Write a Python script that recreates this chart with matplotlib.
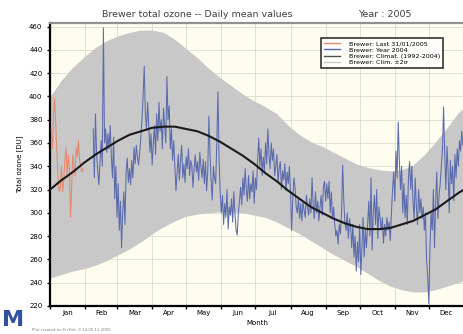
import numpy as np
import matplotlib.pyplot as plt
from matplotlib.lines import Line2D

# month boundaries (day of year) and labels
month_edges = [0, 31, 59, 90, 120, 151, 181, 212, 243, 273, 304, 334, 365]
month_names = ['Jan', 'Feb', 'Mar', 'Apr', 'May', 'Jun',
               'Jul', 'Aug', 'Sep', 'Oct', 'Nov', 'Dec']

# climatology (every 10 days) : mean and +/- band
clim_days = [0, 10, 20, 30, 40, 50, 60, 70, 80, 90, 100, 110, 120, 130, 140, 150,
             160, 170, 180, 190, 200, 210, 220, 230, 240, 250, 260, 270, 280, 290,
             300, 310, 320, 330, 340, 350, 360, 365]
clim_mean = [320, 328, 335, 343, 350, 356, 362, 367, 370, 373, 374, 374, 372, 370,
             366, 361, 355, 349, 342, 334, 327, 319, 312, 305, 300, 295, 291, 288,
             286, 286, 287, 290, 293, 298, 303, 310, 317, 320]
clim_high = [400, 414, 425, 434, 442, 448, 452, 455, 457, 457, 455, 449, 441, 433,
             424, 416, 409, 402, 396, 391, 385, 375, 367, 361, 357, 352, 347, 342,
             339, 337, 336, 337, 341, 350, 361, 373, 386, 391]
clim_low = [244, 247, 250, 252, 255, 259, 264, 269, 275, 282, 288, 293, 297, 299,
            300, 301, 301, 300, 298, 296, 292, 287, 282, 276, 270, 264, 259, 254,
            248, 242, 237, 234, 232, 232, 234, 237, 240, 242]

# current year (January 2005), starting Jan 1
cur_start = 1
cur_vals = [372, 355, 385, 398, 375, 352, 330, 318, 322, 340, 318, 328, 345, 356, 330,
            350, 338, 296, 322, 350, 340, 332, 356, 348, 362, 345, 340, 335, 338]

# previous year daily means, starting day 38
prev_start = 38
prev_vals = [
    372, 330, 385, 350, 336, 324, 345, 362, 340, 459,
    360, 372, 352, 368, 355, 375, 348, 330, 365, 312,
    340, 296, 325, 285, 310, 270, 300, 318, 290, 335,
    347, 326, 338, 324, 345, 330, 356, 342, 358, 348,
    341, 352, 365, 380, 400, 426, 385, 372, 395, 375,
    352, 368, 341, 360, 375, 350, 385, 362, 395, 370,
    380, 355, 390, 375, 360, 417, 380, 392, 355, 372,
    345, 362, 340, 319, 335, 350, 328, 345, 358, 330,
    342, 326, 348, 338, 355, 332, 345, 340, 322, 338,
    350, 335, 344, 328, 352, 340, 330, 346, 325, 344,
    319, 335, 383, 350, 328, 311, 340, 330, 325, 360,
    404, 345, 318, 300, 315, 290, 308, 296, 320, 286,
    305, 298, 312, 292, 318, 300, 285, 281, 300, 310,
    322, 307, 330, 315, 338, 320, 310, 332, 312, 325,
    318, 336, 308, 330, 320, 345, 364, 340, 355, 332,
    348, 336, 360, 342, 372, 350, 338, 360, 345, 355,
    332, 340, 350, 326, 338, 344, 320, 336, 328, 342,
    319, 335, 325, 340, 318, 285, 312, 330, 322, 305,
    300, 313, 295, 308, 293, 310, 302, 296, 315, 305,
    298, 312, 300, 330, 306, 295, 318, 300, 310, 293,
    305, 315, 298, 322, 327, 310, 325, 312, 327, 300,
    318, 295, 305, 290, 280, 285, 273, 290, 282, 300,
    341, 310, 292, 285, 300, 278, 295, 288, 270, 290,
    262, 280, 250, 275, 258, 290, 247, 270, 296, 262,
    285, 270, 290, 310, 280, 330, 268, 300, 315, 290,
    320, 278, 305, 295, 285, 296, 274, 290, 280, 296,
    285, 292, 276, 300, 320, 335, 310, 353, 330, 378,
    345, 320, 340, 300, 325, 296, 315, 290, 330, 344,
    320, 340, 310, 295, 330, 305, 290, 320, 300, 312,
    295, 305, 285, 300, 260, 245, 222, 270, 300, 285,
    320, 270, 310, 335, 295, 315, 325, 340, 355, 391,
    350, 320, 357, 335, 300, 345, 325, 340, 310, 350,
    330, 355, 340, 362, 353, 370, 358]

fig = plt.figure(figsize=(4.64, 3.34), dpi=100)
ax = fig.add_axes([0.108, 0.084, 0.892, 0.847])
ax.set_facecolor('#fffdf0')

ax.fill_between(clim_days, clim_low, clim_high, color='#c8c8c8', lw=0, zorder=1)
ax.plot(np.arange(prev_start, prev_start + len(prev_vals)), prev_vals,
        color='#5a6aac', lw=0.75, zorder=3)
ax.plot(np.arange(cur_start, cur_start + len(cur_vals)), cur_vals,
        color='#e8866c', lw=0.75, zorder=3)
ax.plot(clim_days, clim_mean, color='#1a1a1a', lw=1.5, zorder=4)

ax.set_xlim(0, 365)
ax.set_ylim(220, 463)
ax.set_yticks(np.arange(220, 461, 20))
ax.set_xticks(month_edges)
ax.set_xticklabels([])
mids = [(month_edges[i] + month_edges[i + 1]) / 2 for i in range(12)]
ax.set_xticks(mids, minor=True)
ax.set_xticklabels(month_names, minor=True)
ax.tick_params(axis='x', which='minor', length=0, labelsize=5, pad=3)
ax.tick_params(axis='x', which='major', length=2, width=1)
ax.tick_params(axis='y', labelsize=5, length=2, width=1)
ax.grid(True, which='major', color='#dcdcd0', lw=0.6, zorder=0)
ax.set_axisbelow(True)

for s in ['left', 'bottom']:
    ax.spines[s].set_linewidth(1.6)
ax.spines['top'].set_color('#909090')
ax.spines['top'].set_linewidth(1.6)
ax.spines['right'].set_visible(False)

ax.set_xlabel('Month', fontsize=5, labelpad=3)
ax.set_ylabel('Total ozone [DU]', fontsize=5, labelpad=4)

fig.text(0.425, 0.942, 'Brewer total ozone -- Daily mean values', fontsize=6.8,
         ha='center', va='bottom', color='#404040')
fig.text(0.83, 0.942, 'Year : 2005', fontsize=6.8, ha='center', va='bottom',
         color='#404040')

handles = [Line2D([], [], color='#e8866c', lw=1),
           Line2D([], [], color='#5a6aac', lw=1),
           Line2D([], [], color='#505050', lw=1),
           Line2D([], [], color='#c8c8c8', lw=1)]
labels = ['Brewer: Last 31/01/2005', 'Brewer: Year 2004',
          'Brewer: Climat. (1992-2004)', 'Brewer: Clim. \u00b12\u03c3']
leg = ax.legend(handles, labels, loc='upper right', bbox_to_anchor=(0.958, 0.958),
                fontsize=4.6, frameon=True, fancybox=False, handlelength=2.6,
                borderpad=0.45, labelspacing=0.12, handletextpad=1.4)
leg.get_frame().set_edgecolor('black')
leg.get_frame().set_linewidth(1.2)

fig.text(0.005, 0.012, 'M', fontsize=16, fontweight='bold', color='#3050a0',
         ha='left', va='bottom')
fig.text(0.068, 0.006, 'Plot created on Fri Feb  4 14:05:11 2005', fontsize=2.8,
         color='#808080', ha='left', va='bottom')

fig.savefig('out.png', dpi=100)
